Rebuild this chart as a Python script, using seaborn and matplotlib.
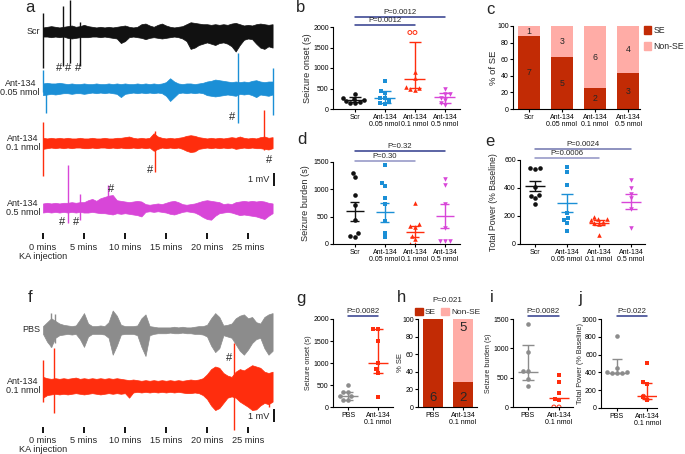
import numpy as np
import pandas as pd
import matplotlib
matplotlib.use("Agg")
import matplotlib.pyplot as plt
import matplotlib.transforms as mtransforms
from matplotlib.lines import Line2D
from matplotlib.patches import Patch
import seaborn as sns

sns.set_theme(style="ticks")
plt.rcParams['font.family'] = ['Liberation Sans', 'DejaVu Sans']
plt.rcParams.update({
    'axes.linewidth': 0.8, 'xtick.major.width': 0.8, 'ytick.major.width': 0.8,
    'xtick.major.size': 2.0, 'ytick.major.size': 2.0,
    'xtick.major.pad': 1.5, 'ytick.major.pad': 1.0,
    'xtick.color': 'black', 'ytick.color': 'black', 'axes.edgecolor': 'black',
})

# ------------------------------------------------------------------ data
# EEG traces: envelope sampled every 0.5 min (mV above / below trace centre)
trace_t = np.arange(0, 28.5, 0.5)

scr_up = [0.35,0.4,0.45,0.4,0.35,0.4, 0.45,0.5,0.4,0.45,0.55, 0.45,0.4,0.35,0.4,0.35,0.4,0.35,0.4,
          0.45,0.5,0.4,0.35,0.4,0.6, 0.65,0.5,0.4,0.55,0.65, 0.5,0.4,0.35,0.4,0.45,0.6,
          0.75,0.7,0.65,0.6, 0.6,0.55,0.6,0.55,0.6,0.55,0.65, 0.7,0.6,0.5,0.55, 0.5,0.6,0.65,0.6,0.55,0.6]
scr_lo = [0.35,0.35,0.4,0.35,0.4,0.35, 0.45,0.5,0.45,0.4,0.4, 0.4,0.35,0.35,0.4,0.35,0.4,0.45,0.5,
          0.85,0.7,0.4,0.35,0.4,0.45, 0.55,0.45,0.4,0.45,0.5, 0.45,0.4,0.35,0.4,0.5,0.7,
          1.3,1.2,1.0,0.9, 0.8,0.9,1.0,0.85,0.8,0.9,1.1, 1.5,1.0,0.6,0.5, 0.55,0.9,1.2,1.3,1.1,1.2]
scr_spk_t = [0.0, 2.45, 3.3, 4.5]
scr_spk_top = [1.45, 2.0, 2.5, 0.75]
scr_spk_bot = [2.75, 2.65, 2.4, 2.65]

a005_up = [0.35,0.4,0.35,0.35,0.4,0.35, 0.3,0.35,0.3,0.3,0.35, 0.3,0.3,0.35,0.3,0.3,0.35,0.3,0.35,
           0.3,0.35,0.3,0.3,0.35,0.3, 0.35,0.3,0.35,0.3,0.35, 0.45,0.75,0.5,0.35,0.3,0.35,
           0.35,0.3,0.35,0.4, 0.5,0.55,0.65,0.6,0.55,0.5,0.45, 0.5,0.45,0.5,0.45, 0.55,0.6,0.5,0.45,0.5,0.5]
a005_lo = [0.55,0.5,0.45,0.5,0.45,0.4, 0.4,0.45,0.4,0.4,0.45, 0.4,0.35,0.4,0.35,0.4,0.35,0.4,0.45,
           0.7,0.45,0.4,0.35,0.4,0.35, 0.4,0.35,0.4,0.35,0.4, 0.6,1.0,0.7,0.4,0.35,0.4,
           0.35,0.4,0.35,0.4, 0.55,0.6,0.65,0.6,0.55,0.5,0.55, 0.6,0.45,0.5,0.45, 0.55,0.7,0.5,0.55,0.6,0.5]
a005_spk_t = [0.0, 0.35, 23.8, 28.0]
a005_spk_top = [1.4, 0.3, 2.7, 1.55]
a005_spk_bot = [0.3, 1.9, 2.7, 2.05]

a01_up = [0.4,0.35,0.4,0.35,0.4,0.35, 0.4,0.35,0.35,0.4,0.35, 0.35,0.4,0.35,0.35,0.4,0.35,0.35,0.4,
          0.4,0.45,0.5,0.4,0.35,0.4, 0.35,0.4,0.75,0.5,0.4, 0.35,0.4,0.35,0.4,0.45,0.55,
          0.6,0.55,0.45,0.4, 0.35,0.4,0.35,0.4,0.35,0.4,0.45, 0.4,0.5,0.4,0.35, 0.4,0.35,0.45,0.5,0.4,0.45]
a01_lo = [0.45,0.4,0.35,0.4,0.35,0.4, 0.35,0.4,0.35,0.35,0.4, 0.4,0.35,0.4,0.35,0.35,0.4,0.35,0.4,
          0.35,0.4,0.4,0.35,0.4,0.35, 0.4,0.35,0.6,0.45,0.35, 0.4,0.35,0.4,0.35,0.45,0.6,
          0.7,0.65,0.45,0.4, 0.35,0.4,0.35,0.4,0.35,0.4,0.35, 0.45,0.4,0.35,0.4, 0.35,0.4,0.4,0.45,0.5,0.4]
a01_spk_t = [0.0, 13.6, 27.0]
a01_spk_top = [1.65, 0.9, 2.55]
a01_spk_bot = [2.5, 2.2, 0.5]

a05_up = [0.35,0.4,0.35,0.4,0.35,0.4, 0.4,0.45,0.4,0.45,0.45, 0.6,0.7,0.55,0.75,0.85,0.95,1.0,0.6,
          0.55,0.5,0.45,0.5,0.55,0.5, 0.3,0.25,0.3,0.35,0.3, 0.4,0.5,0.55,0.45,0.3,0.25,
          0.3,0.35,0.45,0.55, 0.6,0.55,0.5,0.45,0.3,0.35,0.3, 0.45,0.5,0.55,0.5, 0.55,0.5,0.55,0.5,0.4,0.35]
a05_lo = [0.35,0.3,0.35,0.3,0.35,0.3, 0.35,0.3,0.35,0.3,0.35, 0.35,0.3,0.35,0.4,0.4,0.45,0.5,0.4,
          0.45,0.4,0.45,0.5,0.55,0.65, 0.3,0.25,0.3,0.25,0.3, 0.35,0.45,0.5,0.4,0.3,0.25,
          0.3,0.35,0.5,0.7, 0.85,0.9,0.6,0.4,0.35,0.3,0.35, 0.45,0.55,0.5,0.55, 0.6,0.65,0.75,0.85,0.6,0.4]
a05_spk_t = [3.1, 4.5, 7.9]
a05_spk_top = [3.3, 1.1, 1.8]
a05_spk_bot = [1.15, 0.9, 0.4]

pbs_up = [0.3,0.6,0.9,0.7,0.5,0.4, 0.35,0.3,0.35,0.8,1.3, 0.5,0.3,0.3,0.35,0.3,0.6,1.5,1.1,
          0.4,0.3,0.3,0.3,0.35,0.9, 1.2,0.3,0.25,0.2,0.2, 0.2,0.2,0.25,0.2,0.25,0.2,
          0.2,0.25,0.3,0.3, 0.4,0.9,1.3,1.0,0.35,0.4,0.5, 0.9,1.1,1.2,0.9, 1.0,0.6,0.5,1.0,1.2,1.3]
pbs_lo = [0.3,0.9,1.3,0.6,0.4,0.35, 0.3,0.35,0.3,0.7,1.3, 0.5,0.3,0.3,0.3,0.35,0.6,1.9,1.2,
          0.35,0.3,0.3,0.3,0.4,1.3, 2.0,0.4,0.3,0.25,0.25, 0.25,0.2,0.25,0.25,0.2,0.25,
          0.25,0.3,0.3,0.35, 0.5,1.2,1.7,1.4,0.4,0.5,0.6, 1.1,1.6,1.9,1.5, 1.0,0.7,0.6,1.4,1.9,1.6]
pbs_spk_t = [1.0, 1.5]
pbs_spk_top = [1.3, 1.2]
pbs_spk_bot = [1.3, 1.0]

f01_up = [0.7,0.6,0.55,0.6,0.55,0.6, 0.55,0.6,0.65,0.55,0.6, 0.55,0.6,0.55,0.6,0.55,0.6,0.55,0.6,
          0.55,0.5,0.45,0.5,0.45,0.4, 0.45,0.4,0.45,0.4,0.45, 0.4,0.45,0.4,0.45,0.4,0.45,
          0.5,0.45,0.5,0.6, 0.9,1.3,1.5,1.4,1.0,0.8,0.7, 1.1,1.3,1.2,1.4, 1.6,1.5,1.4,1.1,1.0,1.1]
f01_lo = [0.9,0.7,0.65,0.6,0.65,0.6, 0.65,0.6,0.55,0.6,0.65, 0.6,0.55,0.6,0.65,0.6,0.55,0.6,0.55,
          0.6,0.55,0.9,0.5,0.45,0.5, 0.45,0.5,0.45,0.5,0.45, 0.5,0.45,0.5,0.45,0.5,0.55,
          0.55,0.5,0.55,0.7, 1.0,1.5,1.85,1.7,1.3,0.9,0.8, 0.9,1.2,1.4,1.6, 1.85,1.8,1.5,1.3,1.4,1.2]
f01_spk_t = [0.0, 1.3, 23.3, 27.5]
f01_spk_top = [2.0, 2.9, 3.3, 0.8]
f01_spk_bot = [1.2, 2.1, 3.4, 1.6]

trace_labels = ["Scr", "Ant-134\n0.05 nmol", "Ant-134\n0.1 nmol", "Ant-134\n0.5 nmol",
                "PBS", "Ant-134\n0.1 nmol"]
time_ticks = [0, 5, 10, 15, 20, 25]

# panels b, d, e
groups = ["Scr", "Ant-134\n0.05 nmol", "Ant-134\n0.1 nmol", "Ant-134\n0.5 nmol"]
onset_scr = [140, 145, 170, 200, 230, 250, 265, 375]
onset_005 = [683, 450, 392, 267, 267, 183, 142, 125]
onset_01 = [908, 750, 540, 517, 480, 460]
onset_01_nose = [1866, 1866]
onset_05 = [492, 367, 367, 267, 225, 142, 100]
onset_median = [225, 258, 742, 290]
onset_q1 = [165, 142, 517, 142]
onset_q3 = [290, 441, 1633, 383]

se_counts = [7, 5, 2, 3]
nonse_counts = [1, 3, 6, 4]

burden_scr = [1300, 1225, 890, 710, 430, 200, 130, 145]
burden_005 = [1438, 1116, 1056, 843, 740, 424, 206, 122]
burden_01 = [752, 364, 330, 310, 150, 90, 5, 5]
burden_05 = [1195, 1073, 740, 300, 60, 55, 60]
burden_mean = [600, 577, 225, 515]
burden_sem = [173, 167, 97, 222]

power_scr = [543, 535, 540, 405, 350, 345, 285, 330]
power_005 = [552, 516, 421, 224, 183, 171, 148, 95]
power_01 = [190, 180, 175, 170, 160, 150, 140, 65]
power_05 = [457, 397, 360, 326, 248, 112]
power_mean = [416, 290, 152, 302]
power_sem = [37, 64, 18, 55]

# panels g, h, i, j
groups2 = ["PBS", "Ant-134\n0.1 nmol"]
g_pbs = [505, 335, 330, 245, 240, 170, 165]
g_ant = [1780, 1770, 1490, 1000, 860, 770, 230]
g_median = [242, 1000]
g_low = [151, 772]
g_high = [333, 1777]

h_se = [6, 2]
h_nonse = [0, 5]

i_pbs = [1416, 931, 620, 615, 478, 363]
i_ant = [540, 420, 240, 142, 113]
i_ant_nose = [0, 0]
i_median = [600, 147]
i_low = [455, 147]
i_high = [1050, 147]

j_pbs = [811, 455, 396, 388, 400, 396, 400]
j_ant = [501, 293, 275, 124, 94]
j_ant_open = [132, 94]
j_median = [396, 136]
j_low = [390, 98]
j_high = [547, 286]

# ------------------------------------------------------------------ style
C_BLACK, C_BLUE, C_RED, C_MAG, C_GRAY = "#111111", "#1b8fd6", "#ff2d0d", "#d846d8", "#8c8c8c"
C_SE, C_NONSE = "#c22b05", "#ffaca6"
C_NAVY, C_LAV = "#2f3b8c", "#8f92c4"
group_colors = [C_BLACK, C_BLUE, C_RED, C_MAG]
group_markers = ["o", "s", "^", "v"]

W, H = 685, 454
fig = plt.figure(figsize=(W / 100, H / 100), dpi=100)


def px_ax(rect):
    x0, y0, x1, y1 = rect
    return fig.add_axes([x0 / W, 1 - y1 / H, (x1 - x0) / W, (y1 - y0) / H])


def ftext(x, y, s, **kw):
    return fig.text(x / W, 1 - y / H, s, **kw)


# ------------------------------------------------------------------ EEG traces
T0_PX, MIN_PX, MV_PX = 43, 8.2, 13.0
ax_tr = px_ax((0, 0, 300, H))
ax_tr.set_xlim(-T0_PX / MIN_PX, (300 - T0_PX) / MIN_PX)
ax_tr.set_ylim(-H / MV_PX, 0)
ax_tr.axis("off")

trace_table = [
    (32, C_BLACK, scr_up, scr_lo, scr_spk_t, scr_spk_top, scr_spk_bot),
    (88, C_BLUE, a005_up, a005_lo, a005_spk_t, a005_spk_top, a005_spk_bot),
    (143, C_RED, a01_up, a01_lo, a01_spk_t, a01_spk_top, a01_spk_bot),
    (208, C_MAG, a05_up, a05_lo, a05_spk_t, a05_spk_top, a05_spk_bot),
    (330, C_GRAY, pbs_up, pbs_lo, pbs_spk_t, pbs_spk_top, pbs_spk_bot),
    (386, C_RED, f01_up, f01_lo, f01_spk_t, f01_spk_top, f01_spk_bot),
]
for (cy, col, up, lo, st, stop, sbot), lab in zip(trace_table, trace_labels):
    c = -cy / MV_PX
    ax_tr.fill_between(trace_t, c - np.array(lo), c + np.array(up), color=col, lw=0.5, edgecolor=col)
    ax_tr.vlines(st, c - np.array(sbot), c + np.array(stop), color=col, lw=1.0)
    ax_tr.text((40 - T0_PX) / MIN_PX, c, lab, ha="right", va="center", fontsize=6.5,
               multialignment="center", linespacing=1.05)

for tick_py, lab_py, ka_py in [(233, 247, 256), (427, 440, 449)]:
    ax_tr.vlines(time_ticks, -(tick_py + 6) / MV_PX, -tick_py / MV_PX, color="black", lw=1.3)
    for t in time_ticks:
        ax_tr.text(t, -lab_py / MV_PX, f"{t} mins", ha="center", va="center", fontsize=6.6)
    ax_tr.text(0, -ka_py / MV_PX, "KA injection", ha="center", va="center", fontsize=6.6)

for bar_top, txt_py in [(173, 180), (409, 416)]:
    xb = (274 - T0_PX) / MIN_PX
    ax_tr.vlines(xb, -bar_top / MV_PX - 1.0, -bar_top / MV_PX, color="black", lw=1.3)
    ax_tr.text((269 - T0_PX) / MIN_PX, -txt_py / MV_PX, "1 mV", ha="right", va="center", fontsize=6.6)

for hx, hy in [(59, 68), (68, 68), (78, 68), (232, 117), (150, 170), (269, 160),
               (62, 222), (76, 222), (111, 189), (229, 358)]:
    ftext(hx, hy, "#", ha="center", va="center", fontsize=8)


# ------------------------------------------------------------------ helpers
def dot_panel(ax, order, data, colors, markers, center, lo, hi, half, cap, size):
    for i, vals in enumerate(data):
        df = pd.DataFrame({"grp": [order[i]] * len(vals), "val": vals})
        sns.swarmplot(data=df, x="grp", y="val", order=order, color=colors[i], marker=markers[i],
                      size=size, linewidth=0, ax=ax, zorder=2, warn_thresh=1)
        ax.hlines(center[i], i - half, i + half, color=colors[i], lw=1.0, zorder=3)
        ax.vlines(i, lo[i], hi[i], color=colors[i], lw=1.0, zorder=3)
        if hi[i] > lo[i]:
            ax.hlines([lo[i], hi[i]], i - cap, i + cap, color=colors[i], lw=1.0, zorder=3)


def hollow(ax, order, idx, vals, color, size):
    df = pd.DataFrame({"grp": [order[idx]] * len(vals), "val": vals})
    sns.swarmplot(data=df, x="grp", y="val", order=order, color=color, marker="o", size=size,
                  facecolor="none", edgecolor=color, linewidth=0.7, ax=ax, zorder=2, warn_thresh=1)


def sig(ax, x0, x1, py, label, color, fs):
    tr = mtransforms.blended_transform_factory(ax.transData, fig.transFigure)
    yf = 1 - py / H
    ax.add_line(Line2D([x0, x1], [yf, yf], transform=tr, color=color, lw=1.1, clip_on=False))
    ax.text((x0 + x1) / 2, yf + 0.8 / H, label, transform=tr, ha="center", va="bottom",
            fontsize=fs, clip_on=False)


def finish(ax, order, xlim, ylim, yticks, fs, ylabel, lab_x, rect, lab_fs):
    ax.set_xlim(*xlim)
    ax.set_ylim(*ylim)
    ax.set_yticks(yticks)
    ax.set_yticklabels([str(v) for v in yticks], fontsize=fs)
    ax.set_xticks(range(len(order)))
    ax.set_xticklabels(order, fontsize=fs, linespacing=1.0)
    ax.set_xlabel("")
    ax.set_ylabel("")
    sns.despine(ax=ax)
    ftext(lab_x, (rect[1] + rect[3]) / 2, ylabel, rotation=90, ha="center", va="center", fontsize=lab_fs)


# ------------------------------------------------------------------ panel b
rect_b = (333, 27, 460, 109)
ax_b = px_ax(rect_b)
dot_panel(ax_b, groups, [onset_scr, onset_005, onset_01, onset_05], group_colors, group_markers,
          onset_median, onset_q1, onset_q3, 0.35, 0.2, 3.3)
hollow(ax_b, groups, 2, onset_01_nose, C_RED, 2.8)
finish(ax_b, groups, (-0.73, 3.5), (0, 2000), [0, 500, 1000, 1500, 2000], 5.0,
       "Seizure onset (s)", 307, rect_b, 6.6)
sig(ax_b, 0, 3, 17, "P=0.0012", C_NAVY, 5.6)
sig(ax_b, 0, 2, 25, "P=0.0012", C_NAVY, 5.6)

# ------------------------------------------------------------------ panel c
rect_c = (513, 26, 640, 109)
ax_c = px_ax(rect_c)
tot = np.array(se_counts) + np.array(nonse_counts)
se_pct = np.array(se_counts) / tot * 100
all_pct = tot / tot * 100
sns.barplot(x=groups, y=all_pct, color=C_NONSE, saturation=1, width=0.66, errorbar=None, ax=ax_c)
sns.barplot(x=groups, y=se_pct, color=C_SE, saturation=1, width=0.66, errorbar=None, ax=ax_c)
for p in ax_c.patches:
    p.set_linewidth(0)
for i in range(4):
    ax_c.text(i, se_pct[i] / 2, str(se_counts[i]), ha="center", va="center", fontsize=6.3)
    ax_c.text(i, (se_pct[i] + 100) / 2, str(nonse_counts[i]), ha="center", va="center", fontsize=6.3)
finish(ax_c, groups, (-0.48, 3.36), (0, 100), [0, 20, 40, 60, 80, 100], 5.0,
       "% of SE", 493, rect_c, 6.8)
ax_c.legend(handles=[Patch(color=C_SE, label="SE"), Patch(color=C_NONSE, label="Non-SE")],
            loc="upper left", bbox_to_anchor=(1.03, 1.0), frameon=False, fontsize=6.3,
            handlelength=0.8, handleheight=0.9, handletextpad=0.3, labelspacing=0.8,
            borderaxespad=0, borderpad=0)

# ------------------------------------------------------------------ panel d
rect_d = (333, 162, 460, 244)
ax_d = px_ax(rect_d)
bl = list(np.array(burden_mean) - np.array(burden_sem))
bh = list(np.array(burden_mean) + np.array(burden_sem))
dot_panel(ax_d, groups, [burden_scr, burden_005, burden_01, burden_05], group_colors, group_markers,
          burden_mean, bl, bh, 0.3, 0.15, 3.3)
finish(ax_d, groups, (-0.73, 3.5), (0, 1500), [0, 500, 1000, 1500], 5.0,
       "Seizure burden (s)", 306, rect_d, 6.6)
sig(ax_d, 0, 3, 150.7, "P=0.32", C_NAVY, 5.6)
sig(ax_d, 0, 2, 160.7, "P=0.30", C_LAV, 5.6)

# ------------------------------------------------------------------ panel e
rect_e = (520, 160, 645, 244)
ax_e = px_ax(rect_e)
pl = list(np.array(power_mean) - np.array(power_sem))
ph = list(np.array(power_mean) + np.array(power_sem))
dot_panel(ax_e, groups, [power_scr, power_005, power_01, power_05], group_colors, group_markers,
          power_mean, pl, ph, 0.31, 0.19, 3.3)
finish(ax_e, groups, (-0.47, 3.44), (0, 600), [0, 200, 400, 600], 5.0,
       "Total Power (% Baseline)", 494, rect_e, 6.3)
sig(ax_e, 0, 3, 149, "P=0.0024", "#6f74ad", 5.6)
sig(ax_e, 0, 2, 157.7, "P=0.0006", C_LAV, 5.6)

# ------------------------------------------------------------------ panel g
rect_g = (333, 319, 393, 407)
ax_g = px_ax(rect_g)
dot_panel(ax_g, groups2, [g_pbs, g_ant], [C_GRAY, C_RED], ["o", "s"], g_median, g_low, g_high,
          0.33, 0.18, 3.3)
finish(ax_g, groups2, (-0.5, 1.5), (0, 2000), [0, 500, 1000, 1500, 2000], 5.0,
       "Seizure onset (s)", 308, rect_g, 5.2)
sig(ax_g, 0, 1, 315.7, "P=0.0082", C_NAVY, 5.6)

# ------------------------------------------------------------------ panel h
rect_h = (418, 319, 477, 407)
ax_h = px_ax(rect_h)
tot2 = np.array(h_se) + np.array(h_nonse)
hse_pct = np.array(h_se) / tot2 * 100
hall_pct = tot2 / tot2 * 100
sns.barplot(x=groups2, y=hall_pct, color=C_NONSE, saturation=1, width=0.67, errorbar=None, ax=ax_h)
sns.barplot(x=groups2, y=hse_pct, color=C_SE, saturation=1, width=0.67, errorbar=None, ax=ax_h)
for p in ax_h.patches:
    p.set_linewidth(0)
for i in range(2):
    ax_h.text(i, 3, str(h_se[i]), ha="center", va="bottom", fontsize=9.5)
    if h_nonse[i]:
        ax_h.text(i, 97, str(h_nonse[i]), ha="center", va="top", fontsize=9.5)
finish(ax_h, groups2, (-0.5, 1.47), (0, 100), [0, 20, 40, 60, 80, 100], 5.0,
       "% SE", 401, rect_h, 5.5)
ax_h.legend(handles=[Patch(color=C_SE, label="SE"), Patch(color=C_NONSE, label="Non-SE")],
            loc="lower left", bbox_to_anchor=(-0.05, 1.03), frameon=False, fontsize=6.0, ncol=2,
            handlelength=0.9, handleheight=0.9, handletextpad=0.3, columnspacing=0.6,
            borderaxespad=0, borderpad=0)
ftext(447, 300, "P=0.021", ha="center", va="center", fontsize=5.8)

# ------------------------------------------------------------------ panel i
rect_i = (513, 319, 573, 407)
ax_i = px_ax(rect_i)
dot_panel(ax_i, groups2, [i_pbs, i_ant], [C_GRAY, C_RED], ["o", "s"], i_median, i_low, i_high,
          0.33, 0.18, 3.3)
hollow(ax_i, groups2, 1, i_ant_nose, C_RED, 2.8)
finish(ax_i, groups2, (-0.48, 1.45), (0, 1500), [0, 500, 1000, 1500], 5.0,
       "Seizure burden (s)", 489, rect_i, 5.2)
sig(ax_i, 0, 1, 315.7, "P=0.0082", C_NAVY, 5.6)

# ------------------------------------------------------------------ panel j
rect_j = (601, 319, 657, 408)
ax_j = px_ax(rect_j)
dot_panel(ax_j, groups2, [j_pbs, j_ant], [C_GRAY, C_RED], ["o", "s"], j_median, j_low, j_high,
          0.33, 0.18, 3.3)
hollow(ax_j, groups2, 1, j_ant_open, C_RED, 2.8)
finish(ax_j, groups2, (-0.53, 1.33), (0, 1000), [0, 200, 400, 600, 800, 1000], 5.0,
       "Total Power (% Baseline)", 580, rect_j, 5.2)
sig(ax_j, 0, 1, 315.7, "P=0.022", C_NAVY, 5.6)

# ------------------------------------------------------------------ panel letters
for letter, lx, ly in [("a", 30, 8), ("b", 301, 8), ("c", 490, 9), ("d", 302, 140), ("e", 490, 142),
                       ("f", 30, 298), ("g", 301, 298), ("h", 402, 298), ("i", 492, 297), ("j", 580, 298)]:
    ftext(lx, ly, letter, ha="center", va="center", fontsize=12)

fig.savefig("out.png", dpi=100)
